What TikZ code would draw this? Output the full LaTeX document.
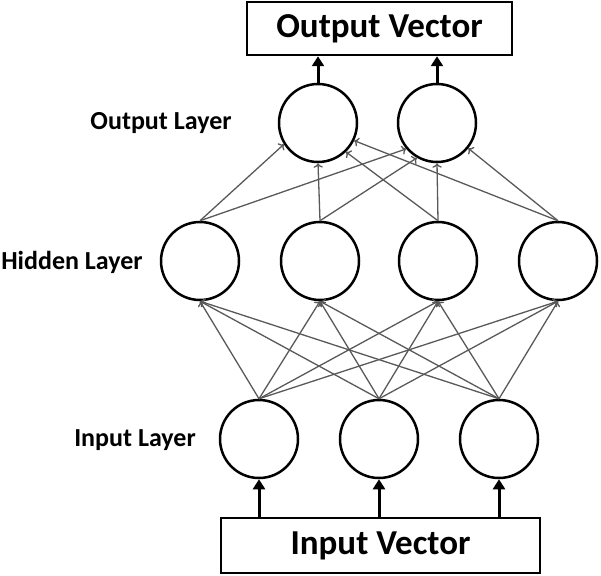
\documentclass[tikz,border=0pt]{standalone}
\usepackage{fontspec}
\setmainfont{Carlito}
\usetikzlibrary{arrows.meta}
\tikzset{
  neuron/.style={
    circle,
    draw=black,
    line width=2.5pt,
    minimum size=78pt,
    inner sep=0,
  },
  vecbox/.style={
    rectangle,
    draw=black,
    line width=2.5pt,
    inner sep=0,
    font=\bfseries\fontsize{35}{38}\selectfont,
  },
  layerlabel/.style={
    font=\bfseries\fontsize{26}{28}\selectfont,
  },
  link/.style={
    ->,draw=black!65,line width=1.3pt
  },
  feed/.style={
    -{Triangle[width=12pt,length=10pt]},line width=3pt
  }
}

\begin{document}
\begin{tikzpicture}[x=1pt,y=-1pt]
    \useasboundingbox (0,0) rectangle (601,575);

    % boxes
    \node[vecbox,minimum width=265pt,minimum height=53pt] at (379.5,28.5) (outvec) {Output Vector};
    \node[vecbox,minimum width=319pt,minimum height=55pt] at (380.5,545.5) (invec) {Input Vector};

    % output layer
    \node[neuron] at (318,123) (o1) {};
    \node[neuron] at (437,123) (o2) {};

    % hidden layer
    \node[neuron] at (200,261) (h1) {};
    \node[neuron] at (320,261) (h2) {};
    \node[neuron] at (438,261) (h3) {};
    \node[neuron] at (558,261) (h4) {};

    % input layer
    \node[neuron] at (259,439) (i1) {};
    \node[neuron] at (379,439) (i2) {};
    \node[neuron] at (499,439) (i3) {};

    \node[layerlabel] at (161,123) (lout) {Output Layer};
    \node[layerlabel] at (72,262) (lhid) {Hidden Layer};
    \node[layerlabel] at (135,440) (lin) {Input Layer};

    % input -> hidden
    \draw[link] (i1.north) -- (h1.south);
    \draw[link] (i1.north) -- (h2.south);
    \draw[link] (i1.north) -- (h3.south);
    \draw[link] (i1.north) -- (h4.south);
    \draw[link] (i2.north) -- (h1.south);
    \draw[link] (i2.north) -- (h2.south);
    \draw[link] (i2.north) -- (h3.south);
    \draw[link] (i2.north) -- (h4.south);
    \draw[link] (i3.north) -- (h1.south);
    \draw[link] (i3.north) -- (h2.south);
    \draw[link] (i3.north) -- (h3.south);
    \draw[link] (i3.north) -- (h4.south);

    % hidden -> output
    \draw[link] (h1.north) -- (o1.212);
    \draw[link] (h2.north) -- (o1.south);
    \draw[link] (h3.north) -- (o1.314);
    \draw[link] (h4.north) -- (o1.334);
    \draw[link] (h1.north) -- (o2.220);
    \draw[link] (h2.north) -- (o2.240);
    \draw[link] (h3.north) -- (o2.south);
    \draw[link] (h4.north) -- (o2.321);

    % vectors in and out
    \draw[feed] (invec.north -| i1) -- (i1.south);
    \draw[feed] (invec.north -| i2) -- (i2.south);
    \draw[feed] (invec.north -| i3) -- (i3.south);
    \draw[feed] (o1.north) -- (o1 |- outvec.south);
    \draw[feed] (o2.north) -- (o2 |- outvec.south);
\end{tikzpicture}
\end{document}
